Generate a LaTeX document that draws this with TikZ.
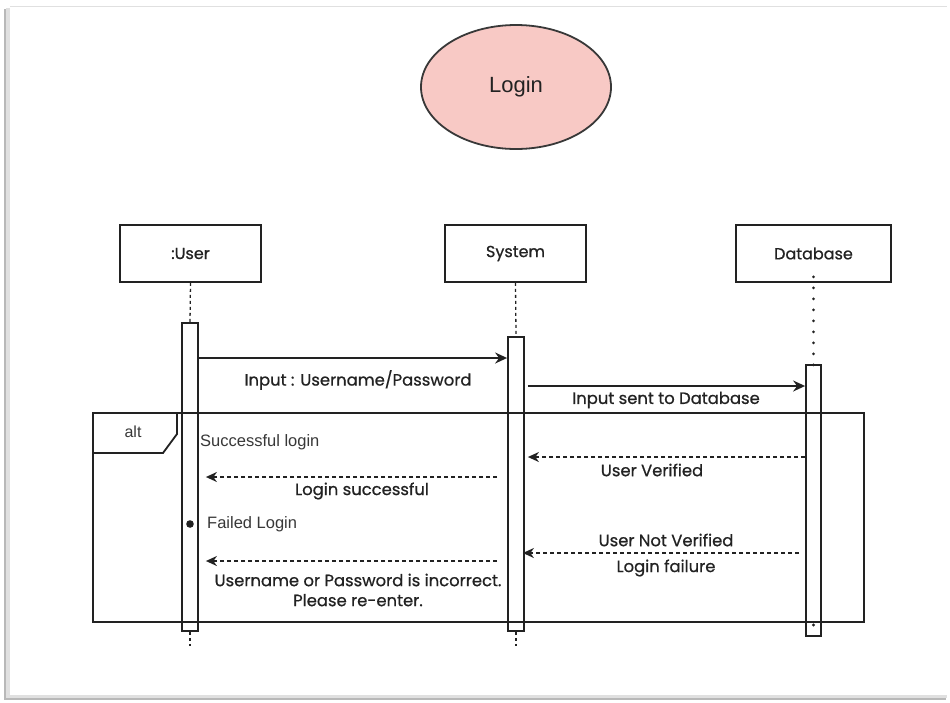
\documentclass[tikz,border=0pt]{standalone}
\usepackage{fontspec}
\setmainfont{Poppins}[FakeBold=0.7]
\newfontfamily\arialfont{Liberation Sans}
\usetikzlibrary{arrows.meta,shapes.geometric}
\definecolor{ink}{HTML}{222222}
\definecolor{salmon}{HTML}{F8C9C5}
\begin{document}
\begin{tikzpicture}[x=1pt,y=-1pt,
  lifebox/.style={draw=ink, line width=1.8pt, minimum width=141pt, minimum height=57pt,
    inner sep=0pt, font=\fontsize{16}{18}\selectfont, text=ink},
  actbar/.style={draw=ink, line width=1.8pt, minimum width=16pt, inner sep=0pt},
  lifeline/.style={draw=ink, line width=1.3pt, dash pattern=on 3pt off 3pt},
  dotline/.style={draw=ink, line width=3pt, line cap=round, dash pattern=on 0pt off 11pt},
  msg/.style={draw=ink, line width=1.8pt, -{Stealth[length=12pt,width=11pt,inset=4pt]}},
  reply/.style={draw=ink, line width=1.5pt, dash pattern=on 4pt off 3pt,
    -{Stealth[length=11pt,width=10pt,inset=3.5pt]}},
  lbl/.style={font=\fontsize{16.4}{20}\selectfont, text=ink, inner sep=1pt, align=center},
  note/.style={font=\arialfont\fontsize{16.5}{18}\selectfont, text=ink!90, inner sep=0pt, anchor=west}]
\useasboundingbox (0,0) rectangle (950,702);

% card with soft shadow
\fill[black!28] (4,9) rectangle (946,700);
\fill[black!12] (6,8) rectangle (947,698);
\fill[white] (10,6) rectangle (947,695);
\draw[black!12, line width=1pt] (10,6) -- (947,6);

% title
\node[ellipse, draw=ink!90, line width=1.8pt, fill=salmon, minimum width=190pt,
  minimum height=124pt, inner sep=0pt, font=\arialfont\fontsize{22}{24}\selectfont,
  text=ink] (title) at (516,87) {Login};

% participants
\node[lifebox] (user) at (190.5,253.5) {:User};
\node[lifebox] (sys) at (515.5,253.5) {System};
\node[lifebox, minimum width=155pt] (db) at (813.5,253.5) {Database};

% activation bars
\node[actbar, minimum height=308pt] (ua) at (190,477) {};
\node[actbar, minimum height=294pt] (sa) at (516,484) {};
\node[actbar, minimum width=15pt, minimum height=271pt] (da) at (813.5,500.5) {};

% lifelines
\coordinate (uend) at (190,646);
\coordinate (send) at (516,646);
\draw[lifeline] (user.south) -- (ua.north);
\draw[lifeline] (ua.south) -- (uend);
\draw[lifeline] (sys.south) -- (sa.north);
\draw[lifeline] (sa.south) -- (send);
\draw[dotline] ([yshift=6pt]db.south) -- ([yshift=-2pt]da.north);
\fill[ink] (813.5,625) circle (1.6pt);

% alt fragment
\node[draw=ink, line width=1.8pt, minimum width=771pt, minimum height=209pt,
  inner sep=0pt, anchor=north west] (alt) at (92,412) {};
\draw[ink, line width=1.8pt] (alt.north west) ++(85,0) -- ++(0,22) -- ++(-14,19) -- ++(-71,0);
\node[font=\arialfont\fontsize{16}{18}\selectfont, text=ink!90] (altl) at (133,432) {alt};

% message levels
\coordinate (y1) at (0,358);
\coordinate (y2) at (0,386);
\coordinate (y3) at (0,457);
\coordinate (y4) at (0,477);
\coordinate (y5) at (0,553);
\coordinate (y6) at (0,561);

% messages
\draw[msg] (ua.east |- y1) -- (sa.west |- y1);
\node[lbl] (m1) at (358,380) {Input : Username/Password};

\draw[msg] ([xshift=3pt]sa.east |- y2) -- (da.west |- y2);
\node[lbl] (m2) at (666,400) {Input sent to Database};

\node[note] (ok) at (200,442) {Successful login};

\draw[reply] (da.west |- y3) -- ([xshift=3pt]sa.east |- y3);
\node[lbl] (m3) at (652,470) {User Verified};

\draw[reply] ([xshift=-10pt]sa.west |- y4) -- ([xshift=7pt]ua.east |- y4);
\node[lbl] (m4) at (362,491) {Login successful};

\fill[ink] (190,524) circle (3.8pt);
\node[note] (fail) at (207,524) {Failed Login};

\draw[reply] ([xshift=-6pt]da.west |- y5) -- ([xshift=-2pt]sa.east |- y5);
\node[lbl] (m5a) at (666,540) {User Not Verified};
\node[lbl] (m5b) at (666,568) {Login failure};

\draw[reply] ([xshift=-10pt]sa.west |- y6) -- ([xshift=7pt]ua.east |- y6);
\node[lbl] (m6) at (358,590) {Username or Password is incorrect.\\Please re-enter.};
\end{tikzpicture}
\end{document}
